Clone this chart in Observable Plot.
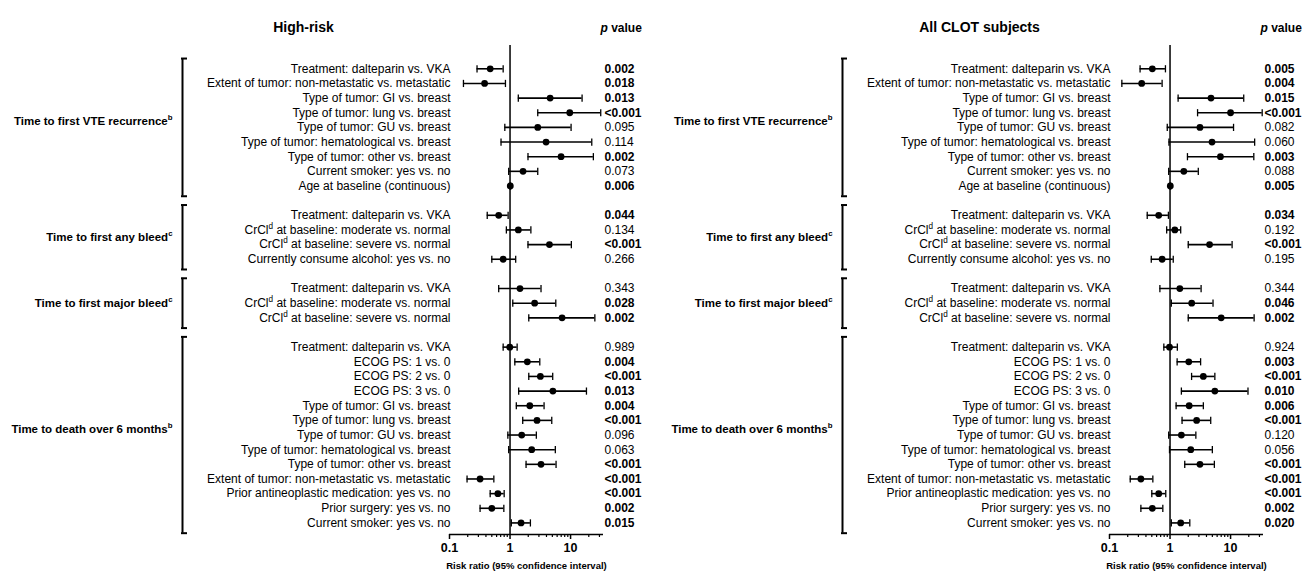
<!DOCTYPE html>
<html><head><meta charset="utf-8">
<script src="https://cdn.jsdelivr.net/npm/d3@7"></script>
<script src="https://cdn.jsdelivr.net/npm/@observablehq/plot@0.6"></script>
<style>
html,body{margin:0;padding:0;background:#fff;}
#wrap{position:relative;width:1311px;height:573px;overflow:hidden;background:#fff;}
#wrap > div{position:absolute;top:0;}
</style></head><body><div id="wrap"><div id="p1" style="left:0px"></div><div id="p2" style="left:660px"></div></div>
<script>
// ---------- data ----------
const panelTitles = ["High-risk", "All CLOT subjects"];
const groups = ["Time to first VTE recurrence^b", "Time to first any bleed^c", "Time to first major bleed^c", "Time to death over 6 months^b"];
const rowGroup = [0,0,0,0,0,0,0,0,0, 1,1,1,1, 2,2,2, 3,3,3,3,3,3,3,3,3,3,3,3,3];
const rowLabels = [
 "Treatment: dalteparin vs. VKA",
 "Extent of tumor: non-metastatic vs. metastatic",
 "Type of tumor: GI vs. breast",
 "Type of tumor: lung vs. breast",
 "Type of tumor: GU vs. breast",
 "Type of tumor: hematological vs. breast",
 "Type of tumor: other vs. breast",
 "Current smoker: yes vs. no",
 "Age at baseline (continuous)",
 "Treatment: dalteparin vs. VKA",
 "CrCl^d at baseline: moderate vs. normal",
 "CrCl^d at baseline: severe vs. normal",
 "Currently consume alcohol: yes vs. no",
 "Treatment: dalteparin vs. VKA",
 "CrCl^d at baseline: moderate vs. normal",
 "CrCl^d at baseline: severe vs. normal",
 "Treatment: dalteparin vs. VKA",
 "ECOG PS: 1 vs. 0",
 "ECOG PS: 2 vs. 0",
 "ECOG PS: 3 vs. 0",
 "Type of tumor: GI vs. breast",
 "Type of tumor: lung vs. breast",
 "Type of tumor: GU vs. breast",
 "Type of tumor: hematological vs. breast",
 "Type of tumor: other vs. breast",
 "Extent of tumor: non-metastatic vs. metastatic",
 "Prior antineoplastic medication: yes vs. no",
 "Prior surgery: yes vs. no",
 "Current smoker: yes vs. no"
];
// High-risk
const hrRR = [0.47, 0.38, 4.6, 9.7, 2.87, 3.94, 6.97, 1.64, 1.01,
              0.65, 1.37, 4.48, 0.77,
              1.46, 2.55, 7.24,
              0.99, 1.93, 3.17, 5.1, 2.12, 2.79, 1.56, 2.28, 3.25, 0.32, 0.63, 0.50, 1.52];
const hrLo = [0.285, 0.17, 1.37, 2.87, 0.82, 0.71, 1.98, 0.95, 1.00,
              0.42, 0.87, 1.98, 0.50,
              0.65, 1.11, 2.04,
              0.77, 1.20, 2.04, 1.39, 1.27, 1.62, 0.92, 0.95, 1.84, 0.195, 0.47, 0.32, 1.05];
const hrHi = [0.77, 0.84, 15.5, 31.5, 10.2, 22.4, 23.8, 2.87, 1.02,
              0.93, 2.21, 10.3, 1.24,
              3.25, 5.7, 25.2,
              1.31, 3.1, 5.07, 18.3, 3.65, 4.89, 2.72, 5.6, 5.76, 0.54, 0.80, 0.79, 2.17];
const hrP = ["0.002","0.018","0.013","<0.001","0.095","0.114","0.002","0.073","0.006",
             "0.044","0.134","<0.001","0.266",
             "0.343","0.028","0.002",
             "0.989","0.004","<0.001","0.013","0.004","<0.001","0.096","0.063","<0.001","<0.001","<0.001","0.002","0.015"];
// All CLOT subjects
const acRR = [0.51, 0.34, 4.75, 10.0, 3.12, 4.94, 6.8, 1.69, 1.01,
              0.65, 1.2, 4.5, 0.74,
              1.45, 2.28, 7.0,
              0.98, 2.04, 3.55, 5.5, 2.07, 2.75, 1.54, 2.2, 3.12, 0.33, 0.65, 0.51, 1.50];
const acLo = [0.32, 0.16, 1.36, 2.85, 0.90, 0.96, 1.94, 0.95, 1.00,
              0.42, 0.88, 2.0, 0.49,
              0.68, 1.05, 2.0,
              0.79, 1.31, 2.27, 1.54, 1.26, 1.58, 0.95, 0.98, 1.75, 0.22, 0.50, 0.33, 1.05];
const acHi = [0.84, 0.74, 16.5, 33.3, 11.2, 25, 24.2, 2.93, 1.02,
              0.94, 1.5, 10.6, 1.13,
              3.26, 5.13, 24.5,
              1.32, 3.2, 5.5, 19.4, 3.55, 4.7, 2.67, 5.0, 5.4, 0.52, 0.85, 0.76, 2.12];
const acP = ["0.005","0.004","0.015","<0.001","0.082","0.060","0.003","0.088","0.005",
             "0.034","0.192","<0.001","0.195",
             "0.344","0.046","0.002",
             "0.924","0.003","<0.001","0.010","0.006","<0.001","0.120","0.056","<0.001","<0.001","<0.001","0.002","0.020"];
const majorTicks = [0.1, 1, 10];
const minorTicks = [0.2,0.3,0.4,0.5,0.6,0.7,0.8,0.9,2,3,4,5,6,7,8,9,20,30];
const axisTitle = "Risk ratio (95% confidence interval)";
const pHeader = "p value";

// ---------- drawing ----------
const FONT = '"Liberation Sans", Arial, Helvetica, sans-serif';
const xDomain = [0.1, 35];
const yDomain = [-1.59, 31.79];
const vbar = {draw(ctx, size) { const r = Math.sqrt(size / Math.PI); ctx.moveTo(0, -r); ctx.lineTo(0, r); }};
const isSig = s => s.startsWith("<") || parseFloat(s) < 0.05;

function panel(title, rr, lo, hi, p, titleDx) {
  const rows = rowLabels.map((label, i) => ({label, row: i + rowGroup[i], rr: rr[i], lo: lo[i], hi: hi[i], p: p[i], bold: isSig(p[i])}));
  const grp = groups.map((name, g) => {
    const rs = rows.filter((d, i) => rowGroup[i] === g);
    const a = rs[0].row, b = rs[rs.length - 1].row;
    // label sits a little above centre for the long groups, as in the source
    const shift = (rs.length > 5) ? 0.4 : 0;
    return {name, top: a - 0.7, bottom: b + 0.7, mid: (a + b) / 2 - shift};
  });
  const ends = grp.flatMap(d => [{y: d.top}, {y: d.bottom}]);
  const xmin = () => xDomain[0];
  return Plot.plot({
    width: 651, height: 573,
    marginLeft: 449, marginRight: 48, marginTop: 45, marginBottom: 39,
    x: {type: "log", domain: xDomain, axis: null},
    y: {domain: yDomain, reverse: true, axis: null},
    style: {fontFamily: FONT, fontSize: "12px", color: "black", background: "white", overflow: "visible"},
    marks: [
      Plot.ruleX([1], {stroke: "black", strokeWidth: 1.5}),
      Plot.ruleY([yDomain[1]], {stroke: "black", strokeWidth: 1.5}),
      Plot.axisX({ticks: minorTicks, tickFormat: () => "", tickSize: 3, strokeWidth: 1.2}),
      Plot.axisX({ticks: majorTicks, tickFormat: d => String(d), tickSize: 5, tickPadding: 4, fontWeight: "bold", fontSize: 12.5, strokeWidth: 1.5, label: null}),
      Plot.text([axisTitle], {frameAnchor: "bottom", lineAnchor: "middle", dy: 31, fontWeight: "bold", fontSize: 9.5}),
      Plot.ruleY(rows, {x1: "lo", x2: "hi", y: "row", stroke: "black", strokeWidth: 1.6}),
      Plot.dot(rows, {x: "lo", y: "row", symbol: vbar, r: 3.6, stroke: "black", strokeWidth: 1.3}),
      Plot.dot(rows, {x: "hi", y: "row", symbol: vbar, r: 3.6, stroke: "black", strokeWidth: 1.3}),
      Plot.dot(rows, {x: "rr", y: "row", r: 3.4, fill: "black", stroke: "none"}),
      Plot.text(rows, {y: "row", text: "label", frameAnchor: "left", textAnchor: "end", lineAnchor: "middle", dx: 1, fontSize: 12}),
      Plot.text(rows.filter(d => d.bold), {y: "row", text: "p", frameAnchor: "right", textAnchor: "start", lineAnchor: "middle", dx: 1, fontSize: 12, fontWeight: "bold"}),
      Plot.text(rows.filter(d => !d.bold), {y: "row", text: "p", frameAnchor: "right", textAnchor: "start", lineAnchor: "middle", dx: 1, fontSize: 12}),
      Plot.ruleX(grp, {x: xmin, y1: "top", y2: "bottom", dx: -267, stroke: "black", strokeWidth: 2}),
      Plot.ruleY(ends, {x1: xmin, x2: xmin, y: "y", dx: -268, insetRight: -6, stroke: "black", strokeWidth: 2}),
      Plot.text(grp, {x: xmin, y: "mid", text: "name", dx: -277, textAnchor: "end", lineAnchor: "middle", fontWeight: "bold", fontSize: 11.5}),
      Plot.text([title], {frameAnchor: "top-left", lineAnchor: "middle", dx: titleDx, dy: -18, textAnchor: "middle", fontWeight: "bold", fontSize: 14}),
      Plot.text([pHeader], {frameAnchor: "top-right", lineAnchor: "middle", dx: -3, dy: -17, textAnchor: "start", fontWeight: "bold", fontSize: 12})
    ]
  });
}

const SVGNS = "http://www.w3.org/2000/svg";
function fixText(svg) {
  svg.querySelectorAll("text").forEach(t => {
    const s = t.textContent;
    const m = s.match(/^(.*?)\^(\w)(.*)$/);
    if (m) {
      const fs = parseFloat(getComputedStyle(t).fontSize) || 12;
      while (t.firstChild) t.removeChild(t.firstChild);
      t.appendChild(document.createTextNode(m[1]));
      const sup = document.createElementNS(SVGNS, "tspan");
      sup.setAttribute("dy", (-0.42 * fs).toFixed(1));
      sup.setAttribute("font-size", (0.68 * fs).toFixed(1));
      sup.textContent = m[2];
      t.appendChild(sup);
      if (m[3]) {
        const rest = document.createElementNS(SVGNS, "tspan");
        rest.setAttribute("dy", (0.42 * fs).toFixed(1));
        rest.textContent = m[3];
        t.appendChild(rest);
      }
    } else if (s === pHeader) {
      while (t.firstChild) t.removeChild(t.firstChild);
      const it = document.createElementNS(SVGNS, "tspan");
      it.setAttribute("font-style", "italic");
      it.textContent = "p";
      t.appendChild(it);
      t.appendChild(document.createTextNode(" value"));
    }
  });
}

const c1 = panel(panelTitles[0], hrRR, hrLo, hrHi, hrP, -146);
const c2 = panel(panelTitles[1], acRR, acLo, acHi, acP, -130);
document.getElementById("p1").appendChild(c1);
document.getElementById("p2").appendChild(c2);
fixText(c1); fixText(c2);
</script></body></html>
